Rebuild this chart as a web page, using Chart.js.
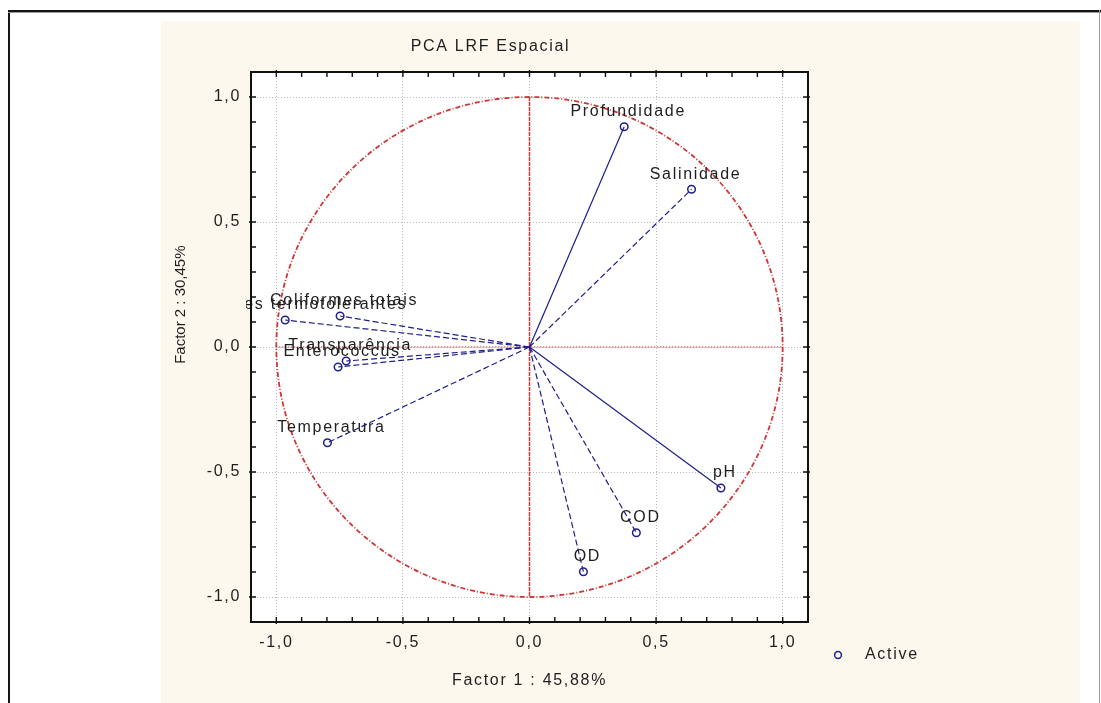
<!DOCTYPE html>
<html>
<head>
<meta charset="utf-8">
<title>PCA LRF Espacial</title>
<script src="https://cdn.jsdelivr.net/npm/chart.js@4.4.1/dist/chart.umd.min.js"></script>
<style>
  html, body { margin: 0; padding: 0; background: #ffffff; }
  #wrap { position: relative; width: 1101px; height: 703px; }
  canvas { display: block; }
</style>
</head>
<body>
<div id="wrap"><canvas id="pca" width="1101" height="703"></canvas></div>
<script>
// Variable loadings on the first two factors
const variables = [
  'Profundidade', 'Salinidade', 'pH', 'COD', 'OD', 'Temperatura',
  'Enterococcus', 'Transparência', 'Coliformes totais', 'Coliformes termotolerantes'
];
const factor1 = [0.374, 0.640, 0.756, 0.422, 0.213, -0.798, -0.756, -0.724, -0.748, -0.965];
const factor2 = [0.881, 0.631, -0.564, -0.743, -0.899, -0.383, -0.080, -0.056, 0.124, 0.108];

// Axis ticks and their labels
const tickValues = [-1.0, -0.5, 0.0, 0.5, 1.0];
const tickLabels = ['-1,0', '-0,5', '0,0', '0,5', '1,0'];

const chartTitle = 'PCA LRF Espacial';
const xTitle = 'Factor 1 : 45,88%';
const yTitle = 'Factor 2 : 30,45%';
const legendLabel = 'Active';

// Styling
const FONT = '"Liberation Sans", Arial, sans-serif';
const FSIZE = 16;
const SPACING = '1.7px';
const TEXT = '#1e1e1e';
const BLUE = '#1f1f8c';
const RED = '#d03535';
const solidVectors = ['Profundidade', 'pH'];

function majorIndex(v) {
  for (let i = 0; i < tickValues.length; i++) {
    if (Math.abs(tickValues[i] - v) < 1e-6) return i;
  }
  return -1;
}

const datasets = variables.map((name, i) => ({
  label: name,
  data: [{ x: 0, y: 0 }, { x: factor1[i], y: factor2[i] }],
  showLine: true,
  borderColor: BLUE,
  borderWidth: 1.2,
  borderDash: solidVectors.includes(name) ? [] : [6, 3],
  pointRadius: [0, 3.8],
  pointHoverRadius: [0, 3.8],
  pointStyle: 'circle',
  pointBackgroundColor: 'rgba(0,0,0,0)',
  pointBorderColor: BLUE,
  pointBorderWidth: 1.5
}));

const frame = {
  id: 'frame',
  beforeDraw(chart) {
    const { ctx, chartArea: a } = chart;
    ctx.save();
    ctx.fillStyle = '#ffffff';
    ctx.fillRect(0, 0, chart.width, chart.height);
    // outer page frame
    ctx.fillStyle = '#151515';
    ctx.fillRect(8, 10, 1093, 2);
    ctx.fillRect(8, 10, 2, 693);
    ctx.fillStyle = '#9a9a9a';
    ctx.fillRect(8, 12, 1093, 1);
    ctx.fillRect(1099, 10, 1, 693);
    // graph background
    ctx.fillStyle = '#fcf8ee';
    ctx.fillRect(161, 21, 919, 682);
    ctx.fillStyle = '#ffffff';
    ctx.fillRect(a.left, a.top, a.right - a.left, a.bottom - a.top);
    ctx.restore();
    ctx.letterSpacing = SPACING;
  },
  beforeDatasetsDraw(chart) {
    const { ctx, scales: { x, y } } = chart;
    const cx = x.getPixelForValue(0), cy = y.getPixelForValue(0);
    const rx = x.getPixelForValue(1) - cx, ry = cy - y.getPixelForValue(1);
    ctx.save();
    ctx.strokeStyle = RED;
    // correlation circle
    ctx.lineWidth = 1.8;
    ctx.setLineDash([5, 2, 1, 2]);
    ctx.beginPath();
    ctx.ellipse(cx, cy, rx, ry, 0, 0, Math.PI * 2);
    ctx.stroke();
    // vertical reference line
    ctx.lineWidth = 1.5;
    ctx.setLineDash([4, 1]);
    ctx.beginPath();
    ctx.moveTo(cx, y.getPixelForValue(1));
    ctx.lineTo(cx, y.getPixelForValue(-1));
    ctx.stroke();
    // horizontal reference line
    ctx.lineWidth = 1.3;
    ctx.setLineDash([1, 2]);
    ctx.beginPath();
    ctx.moveTo(x.getPixelForValue(-1), cy);
    ctx.lineTo(x.getPixelForValue(1), cy);
    ctx.stroke();
    ctx.restore();
  },
  afterDatasetsDraw(chart) {
    const { ctx, chartArea: a } = chart;
    ctx.save();
    ctx.beginPath();
    ctx.rect(a.left - 5, a.top, a.right - a.left + 5, a.bottom - a.top);
    ctx.clip();
    ctx.font = FSIZE + 'px ' + FONT;
    ctx.letterSpacing = SPACING;
    ctx.fillStyle = TEXT;
    ctx.textAlign = 'center';
    ctx.textBaseline = 'middle';
    chart.data.datasets.forEach((ds, i) => {
      const pt = chart.getDatasetMeta(i).data[1];
      ctx.fillText(ds.label, pt.x + 4, pt.y - 15);
    });
    ctx.restore();
  },
  afterDraw(chart) {
    const { ctx, chartArea: a, scales: { x, y } } = chart;
    ctx.save();
    // plot box
    ctx.strokeStyle = '#111111';
    ctx.lineWidth = 2;
    ctx.strokeRect(a.left, a.top, a.right - a.left, a.bottom - a.top);
    // inner tick marks
    ctx.lineWidth = 1.4;
    ctx.beginPath();
    x.ticks.forEach(t => {
      const p = x.getPixelForValue(t.value);
      if (p <= a.left + 1 || p >= a.right - 1) return;
      const major = majorIndex(t.value) >= 0;
      const out = major ? 2 : 0, len = 5;
      ctx.moveTo(p, a.bottom + out); ctx.lineTo(p, a.bottom - len);
      ctx.moveTo(p, a.top - out); ctx.lineTo(p, a.top + len);
    });
    y.ticks.forEach(t => {
      const p = y.getPixelForValue(t.value);
      if (p <= a.top + 1 || p >= a.bottom - 1) return;
      const major = majorIndex(t.value) >= 0;
      const out = major ? 2 : 0, len = 5;
      ctx.moveTo(a.left - out, p); ctx.lineTo(a.left + len, p);
      ctx.moveTo(a.right + out, p); ctx.lineTo(a.right - len, p);
    });
    ctx.stroke();

    ctx.font = FSIZE + 'px ' + FONT;
    ctx.letterSpacing = SPACING;
    ctx.fillStyle = TEXT;
    ctx.textAlign = 'center';
    ctx.textBaseline = 'middle';
    // chart title
    ctx.fillText(chartTitle, a.left + (a.right - a.left) * 0.43, 47);
    // vertical axis title (rotated text is set tighter)
    ctx.save();
    ctx.font = '15px ' + FONT;
    ctx.letterSpacing = '0px';
    ctx.translate(181, a.top + (a.bottom - a.top) * 0.423);
    ctx.rotate(-Math.PI / 2);
    ctx.fillText(yTitle, 0, 0);
    ctx.restore();
    // legend
    const lx = a.right + 30, ly = a.bottom + 33;
    ctx.strokeStyle = BLUE;
    ctx.lineWidth = 1.5;
    ctx.beginPath();
    ctx.arc(lx, ly, 3.4, 0, Math.PI * 2);
    ctx.stroke();
    ctx.textAlign = 'left';
    ctx.fillText(legendLabel, lx + 27, ly);
    ctx.restore();
  }
};

const tickCallback = (v) => {
  const i = majorIndex(v);
  return i >= 0 ? tickLabels[i] : '';
};
const gridColor = (c) => {
  if (!c.tick) return 'rgba(0,0,0,0)';
  return majorIndex(c.tick.value) >= 0 ? '#bcbcbc' : 'rgba(0,0,0,0)';
};

new Chart(document.getElementById('pca'), {
  type: 'scatter',
  data: { datasets },
  options: {
    responsive: false,
    animation: false,
    devicePixelRatio: 1,
    layout: { padding: { left: 161, top: 72, right: 293, bottom: 0 } },
    plugins: {
      legend: { display: false },
      tooltip: { enabled: false },
      title: { display: false }
    },
    scales: {
      x: {
        type: 'linear',
        min: -1.1, max: 1.1,
        afterFit: (s) => { s.height = 81; },
        ticks: {
          stepSize: 0.1, autoSkip: false, maxRotation: 0, padding: 11,
          color: TEXT, font: { family: FONT, size: FSIZE },
          callback: tickCallback
        },
        grid: { drawTicks: false, color: gridColor, lineWidth: 1 },
        border: { display: false, dash: [1, 2] },
        title: {
          display: true, text: xTitle, color: TEXT,
          font: { family: FONT, size: FSIZE }, padding: { top: 0, bottom: 13 }
        }
      },
      y: {
        type: 'linear',
        min: -1.1, max: 1.1,
        afterFit: (s) => { s.width = 90; },
        ticks: {
          stepSize: 0.1, autoSkip: false, padding: 10,
          color: TEXT, font: { family: FONT, size: FSIZE },
          callback: tickCallback
        },
        grid: { drawTicks: false, color: gridColor, lineWidth: 1 },
        border: { display: false, dash: [1, 2] },
        title: { display: false }
      }
    }
  },
  plugins: [frame]
});
</script>
</body>
</html>
